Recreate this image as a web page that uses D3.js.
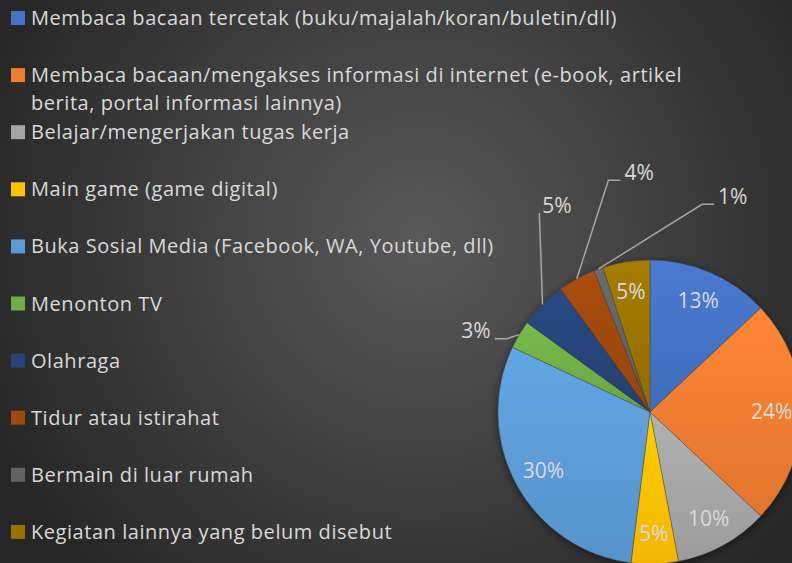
<!DOCTYPE html>
<html>
<head>
<meta charset="utf-8">
<script src="https://cdn.jsdelivr.net/npm/d3@7"></script>
<style>
  html, body { margin: 0; padding: 0; background: #2b2b2b; }
  svg { display: block; }
  .legend-text, .pct-label { font-family: "Open Sans", sans-serif; fill: #d9d9d9; }
</style>
</head>
<body>
<svg id="chart" width="792" height="563"></svg>
<script>
// Data
var categories = [
  "Membaca bacaan tercetak (buku/majalah/koran/buletin/dll)",
  "Membaca bacaan/mengakses informasi di internet (e-book, artikel|berita, portal informasi lainnya)",
  "Belajar/mengerjakan tugas kerja",
  "Main game (game digital)",
  "Buka Sosial Media (Facebook, WA, Youtube, dll)",
  "Menonton TV",
  "Olahraga",
  "Tidur atau istirahat",
  "Bermain di luar rumah",
  "Kegiatan lainnya yang belum disebut"
];
var values = [13, 24, 10, 5, 30, 3, 5, 4, 1, 5];
var colors = ["#4472C4", "#ED7D31", "#A5A5A5", "#FFC000", "#5B9BD5",
              "#70AD47", "#264478", "#9E480E", "#636363", "#997300"];

// outside label placement (angle in degrees clockwise from top, distance from center)
var outside_labels = [
  {index: 5, angle: 295, dist: 192, elbow: 12},
  {index: 6, angle: 335.7, dist: 226, elbow: 0},
  {index: 7, angle: 357.4, dist: 240, elbow: 12},
  {index: 8, angle: 21, dist: 231, elbow: 12}
];

var width = 792, height = 563;
var cx = 650, cy = 412, radius = 152;
var legend_font = 20;
var label_font = 21;

var svg = d3.select("#chart");
var defs = svg.append("defs");

// background
var bg = defs.append("radialGradient")
  .attr("id", "bg-grad")
  .attr("gradientUnits", "userSpaceOnUse")
  .attr("cx", 420).attr("cy", 240).attr("r", 460);
bg.append("stop").attr("offset", "0%").attr("stop-color", "#595959");
bg.append("stop").attr("offset", "100%").attr("stop-color", "#272727");
svg.append("rect").attr("width", width).attr("height", height).attr("fill", "url(#bg-grad)");

// slice gradients
colors.forEach(function(c, i) {
  let g = defs.append("linearGradient")
    .attr("id", "slice-grad-" + i)
    .attr("x1", 0).attr("y1", 0).attr("x2", 0).attr("y2", 1);
  g.append("stop").attr("offset", "0%").attr("stop-color", d3.color(c).brighter(0.2));
  g.append("stop").attr("offset", "100%").attr("stop-color", d3.color(c).darker(0.15));
});

// shadow
var shadow = defs.append("filter").attr("id", "pie-shadow")
  .attr("x", "-20%").attr("y", "-20%").attr("width", "140%").attr("height", "140%");
shadow.append("feGaussianBlur").attr("in", "SourceAlpha").attr("stdDeviation", 4).attr("result", "blur");
shadow.append("feOffset").attr("dx", 0).attr("dy", 2).attr("result", "off");
shadow.append("feComponentTransfer").attr("in", "off").attr("result", "sh")
  .append("feFuncA").attr("type", "linear").attr("slope", 0.5);
var merge = shadow.append("feMerge");
merge.append("feMergeNode").attr("in", "sh");
merge.append("feMergeNode").attr("in", "SourceGraphic");

// Legend
var legend_top = 25;
var legend_step = 57.1;
var legend = svg.append("g").attr("class", "legend");
var entries = legend.selectAll(".entry")
  .data(categories)
  .enter()
  .append("g")
  .attr("class", "entry")
  .attr("transform", function(d, i) { return "translate(0," + (legend_top + i * legend_step) + ")"; });

entries.append("rect")
  .attr("x", 11).attr("y", -14)
  .attr("width", 14).attr("height", 14)
  .attr("fill", function(d, i) { return colors[i]; });

entries.append("text")
  .attr("class", "legend-text")
  .attr("x", 31)
  .style("font-size", legend_font + "px")
  .style("letter-spacing", "0.55px")
  .each(function(d) {
    let lines = d.split("|");
    let t = d3.select(this);
    lines.forEach(function(line, j) {
      t.append("tspan").attr("x", 31).attr("y", j * 28).text(line);
    });
  });

// Pie
var pie = d3.pie().sort(null).value(function(d) { return d; });
var arcs = pie(values);
var arc = d3.arc().innerRadius(0).outerRadius(radius);
var label_arc = d3.arc().innerRadius(radius * 0.8).outerRadius(radius * 0.8);

var pie_g = svg.append("g").attr("transform", "translate(" + cx + "," + cy + ")");
pie_g.append("g").attr("filter", "url(#pie-shadow)")
  .selectAll("path")
  .data(arcs)
  .enter()
  .append("path")
  .attr("d", arc)
  .attr("fill", function(d, i) { return "url(#slice-grad-" + i + ")"; })
  .attr("stroke", "rgba(60,60,60,0.6)")
  .attr("stroke-width", 0.6);

// inside labels
var outside_idx = outside_labels.map(function(o) { return o.index; });
pie_g.selectAll(".pct-inside")
  .data(arcs.filter(function(d, i) { return outside_idx.indexOf(i) < 0; }))
  .enter()
  .append("text")
  .attr("class", "pct-label")
  .attr("text-anchor", "middle")
  .attr("dy", "0.35em")
  .style("font-size", label_font + "px")
  .attr("transform", function(d) { return "translate(" + label_arc.centroid(d) + ")"; })
  .text(function(d) { return d.data + "%"; });

// outside labels with leader lines
outside_labels.forEach(function(o) {
  let d = arcs[o.index];
  let mid = (d.startAngle + d.endAngle) / 2;
  let edge = d3.pointRadial(mid, radius);
  let pos = d3.pointRadial(o.angle * Math.PI / 180, o.dist);
  let txt = pie_g.append("text")
    .attr("class", "pct-label")
    .attr("text-anchor", "middle")
    .attr("dy", "0.35em")
    .style("font-size", label_font + "px")
    .attr("x", pos[0]).attr("y", pos[1])
    .text(d.data + "%");
  let half_w = txt.node().getComputedTextLength() / 2;
  let bottom = pos[1] + 8;
  let pts;
  if (o.elbow > 0) {
    let side = edge[0] > pos[0] ? 1 : -1;
    let ax = pos[0] + side * (half_w + 4);
    pts = [[ax, bottom], [ax + side * o.elbow, bottom], edge];
  } else {
    pts = [[pos[0] - half_w - 3, bottom - 1], edge];
  }
  pie_g.insert("path", "text")
    .attr("d", d3.line()(pts))
    .attr("fill", "none")
    .attr("stroke", "#a6a6a6")
    .attr("stroke-width", 1.5);
});
</script>
</body>
</html>
